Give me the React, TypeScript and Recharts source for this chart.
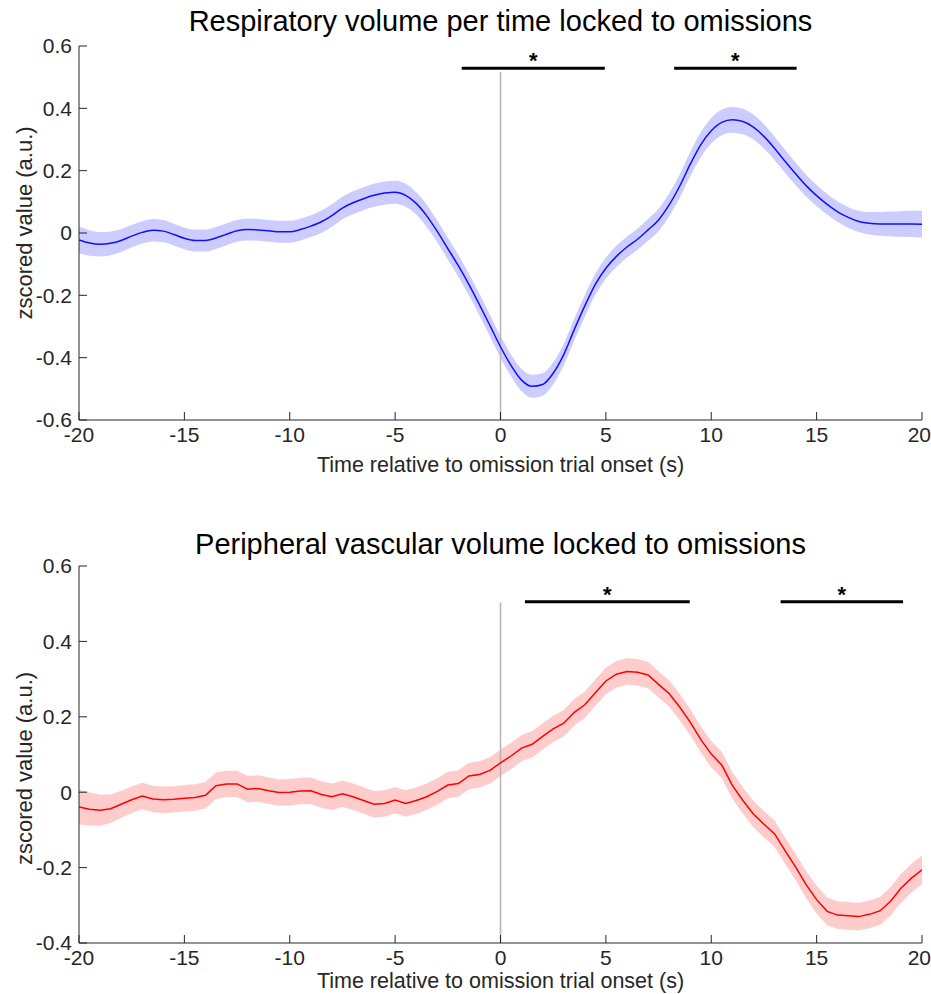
import React from 'react'
import { ComposedChart, Line, Area, XAxis, YAxis, ReferenceLine } from 'recharts'

// time grid (s), shared by both panels
const times = [
  -20, -19.5, -19, -18.5, -18, -17.5, -17, -16.5, -16, -15.5, -15, -14.5, -14, -13.5, -13, -12.5,
  -12, -11.5, -11, -10.5, -10, -9.5, -9, -8.5, -8, -7.5, -7, -6.5, -6, -5.5, -5, -4.5, -4, -3.5,
  -3, -2.5, -2, -1.5, -1, -0.5, 0, 0.5, 1, 1.5, 2, 2.5, 3, 3.5, 4, 4.5, 5, 5.5, 6, 6.5, 7, 7.5, 8,
  8.5, 9, 9.5, 10, 10.5, 11, 11.5, 12, 12.5, 13, 13.5, 14, 14.5, 15, 15.5, 16, 16.5, 17, 17.5, 18,
  18.5, 19, 19.5, 20,
]

// respiratory volume per time, mean and sem
const respMean = [
  -0.022, -0.032, -0.036, -0.033, -0.024, -0.01, 0.002, 0.009, 0.006, -0.005, -0.017, -0.024,
  -0.024, -0.016, -0.004, 0.007, 0.011, 0.01, 0.007, 0.004, 0.004, 0.011, 0.022, 0.036, 0.056, 0.08,
  0.097, 0.11, 0.121, 0.128, 0.131, 0.121, 0.095, 0.055, 0.005, -0.05, -0.105, -0.165, -0.23,
  -0.297, -0.365, -0.425, -0.472, -0.492, -0.486, -0.45, -0.39, -0.31, -0.234, -0.165, -0.113,
  -0.075, -0.045, -0.02, 0.01, 0.042, 0.09, 0.15, 0.22, 0.283, 0.328, 0.355, 0.363, 0.358, 0.34,
  0.31, 0.272, 0.23, 0.19, 0.152, 0.12, 0.092, 0.068, 0.05, 0.037, 0.031, 0.029, 0.029, 0.029,
  0.029, 0.028,
]
const respSem = [
  0.043, 0.041, 0.039, 0.038, 0.037, 0.036, 0.036, 0.036, 0.036, 0.035, 0.035, 0.035, 0.035, 0.035,
  0.035, 0.035, 0.035, 0.035, 0.035, 0.035, 0.035, 0.035, 0.035, 0.036, 0.036, 0.036, 0.037, 0.037,
  0.037, 0.037, 0.037, 0.037, 0.036, 0.036, 0.035, 0.035, 0.035, 0.035, 0.035, 0.035, 0.035, 0.035,
  0.036, 0.037, 0.036, 0.035, 0.035, 0.035, 0.035, 0.034, 0.034, 0.034, 0.034, 0.034, 0.035, 0.036,
  0.037, 0.038, 0.039, 0.04, 0.041, 0.041, 0.041, 0.041, 0.04, 0.039, 0.038, 0.037, 0.036, 0.035,
  0.034, 0.033, 0.033, 0.033, 0.034, 0.036, 0.038, 0.04, 0.041, 0.042, 0.043,
]

// peripheral vascular volume, mean and sem
const vascMean = [
  -0.039, -0.045, -0.048, -0.044, -0.032, -0.02, -0.01, -0.018, -0.02, -0.019, -0.016, -0.014,
  -0.008, 0.017, 0.022, 0.022, 0.008, 0.01, 0.004, -0.001, 0.0, 0.003, 0.004, -0.006, -0.012,
  -0.004, -0.012, -0.022, -0.032, -0.03, -0.021, -0.03, -0.022, -0.012, 0.002, 0.019, 0.023, 0.043,
  0.047, 0.058, 0.078, 0.096, 0.117, 0.127, 0.148, 0.168, 0.183, 0.212, 0.232, 0.264, 0.295, 0.313,
  0.32, 0.318, 0.311, 0.286, 0.262, 0.226, 0.186, 0.14, 0.101, 0.072, 0.018, -0.022, -0.058, -0.085,
  -0.11, -0.155, -0.198, -0.245, -0.285, -0.316, -0.326, -0.328, -0.33, -0.324, -0.315, -0.29,
  -0.255, -0.228, -0.206,
]
const vascSem = [
  0.046, 0.044, 0.041, 0.038, 0.036, 0.035, 0.035, 0.035, 0.035, 0.035, 0.035, 0.035, 0.035, 0.035,
  0.035, 0.035, 0.035, 0.035, 0.035, 0.035, 0.035, 0.035, 0.035, 0.035, 0.035, 0.035, 0.035, 0.035,
  0.035, 0.035, 0.035, 0.035, 0.035, 0.035, 0.035, 0.035, 0.035, 0.035, 0.035, 0.035, 0.035, 0.035,
  0.035, 0.035, 0.035, 0.035, 0.035, 0.035, 0.035, 0.035, 0.035, 0.035, 0.035, 0.035, 0.035, 0.035,
  0.035, 0.035, 0.035, 0.035, 0.035, 0.035, 0.035, 0.035, 0.035, 0.035, 0.035, 0.035, 0.035, 0.036,
  0.037, 0.037, 0.037, 0.037, 0.037, 0.037, 0.037, 0.038, 0.038, 0.038, 0.038,
]

const xTicks = [-20, -15, -10, -5, 0, 5, 10, 15, 20]
const respYTicks = [-0.6, -0.4, -0.2, 0, 0.2, 0.4, 0.6]
const vascYTicks = [-0.4, -0.2, 0, 0.2, 0.4, 0.6]

// significant windows (s)
const respSig = [
  [-1.84, 4.95],
  [8.24, 14.05],
]
const vascSig = [
  [1.16, 8.98],
  [13.29, 19.1],
]

const AXIS = '#262626'
const FONT = '"Liberation Sans", Arial, Helvetica, sans-serif'
const TICK_SIZE = 21

// x tick label; the last one is right aligned so it stays inside the window
function XTick(props: any) {
  const { x, y, payload } = props
  const last = payload.value === xTicks[xTicks.length - 1]
  return (
    <text
      x={last ? x + 9 : x}
      y={y}
      dy="0.71em"
      textAnchor={last ? 'end' : 'middle'}
      fill={AXIS}
      fontSize={TICK_SIZE}
    >
      {payload.value}
    </text>
  )
}

interface PanelProps {
  title: string
  top: number
  height: number
  marginTop: number
  xAxisHeight: number
  xLabelOffset: number
  yLabelShift: number
  mean: number[]
  sem: number[]
  lineColor: string
  bandColor: string
  lineType: 'monotone' | 'linear'
  yDomain: [number, number]
  yTicks: number[]
  sig: number[][]
  sigY: number
  onsetTop: number
  titleTop: number
}

function Panel({
  title,
  top,
  height,
  marginTop,
  xAxisHeight,
  xLabelOffset,
  yLabelShift,
  mean,
  sem,
  lineColor,
  bandColor,
  lineType,
  yDomain,
  yTicks,
  sig,
  sigY,
  onsetTop,
  titleTop,
}: PanelProps) {
  const data = times.map((t, i) => ({
    t,
    mean: mean[i],
    band: [mean[i] - sem[i], mean[i] + sem[i]],
  }))

  return (
    <div style={{ position: 'absolute', left: 0, top, width: 931, height }}>
      <div
        style={{
          position: 'absolute',
          left: 79,
          width: 843,
          top: titleTop,
          textAlign: 'center',
          fontSize: 29,
          lineHeight: '32px',
          color: '#000',
          whiteSpace: 'nowrap',
        }}
      >
        {title}
      </div>
      <ComposedChart
        width={931}
        height={height}
        data={data}
        margin={{ top: marginTop, right: 9, bottom: 0, left: 0 }}
      >
        <XAxis
          dataKey="t"
          type="number"
          domain={[-20, 20]}
          ticks={xTicks}
          interval={0}
          allowDataOverflow
          height={xAxisHeight}
          tickSize={-8}
          tickMargin={15}
          tick={<XTick />}
          axisLine={{ stroke: AXIS }}
          tickLine={{ stroke: AXIS }}
          label={{
            value: 'Time relative to omission trial onset (s)',
            position: 'insideBottom',
            offset: xLabelOffset,
            style: { fill: AXIS, fontSize: 21.5 },
          }}
        />
        <YAxis
          type="number"
          domain={yDomain}
          ticks={yTicks}
          interval={0}
          allowDataOverflow
          width={79}
          tickSize={-8}
          tickMargin={15}
          tickFormatter={(v: number) => String(v)}
          tick={{ fill: AXIS, fontSize: TICK_SIZE }}
          axisLine={{ stroke: AXIS }}
          tickLine={{ stroke: AXIS }}
          label={{
            value: 'zscored value  (a.u.)',
            angle: -90,
            position: 'insideLeft',
            offset: 24,
            dy: yLabelShift,
            style: { fill: AXIS, fontSize: 22, textAnchor: 'middle' },
          }}
        />
        <ReferenceLine
          segment={[
            { x: 0, y: yDomain[0] },
            { x: 0, y: onsetTop },
          ]}
          stroke="#b5b5b5"
          strokeWidth={1.5}
          ifOverflow="visible"
        />
        <Area
          dataKey="band"
          type={lineType}
          stroke="none"
          fill={bandColor}
          fillOpacity={1}
          dot={false}
          activeDot={false}
          isAnimationActive={false}
        />
        <Line
          dataKey="mean"
          type={lineType}
          stroke={lineColor}
          strokeWidth={1.5}
          dot={false}
          activeDot={false}
          isAnimationActive={false}
        />
        {sig.map(([a, b], i) => (
          <ReferenceLine
            key={i}
            segment={[
              { x: a, y: sigY },
              { x: b, y: sigY },
            ]}
            stroke="#000"
            strokeWidth={3}
            ifOverflow="visible"
            label={{
              value: '*',
              position: 'top',
              offset: 0,
              style: { fill: '#000', fontSize: 22, fontWeight: 'bold' },
            }}
          />
        ))}
      </ComposedChart>
    </div>
  )
}

export default function App() {
  return (
    <div
      style={{
        position: 'absolute',
        left: 0,
        top: 0,
        width: 931,
        height: 994,
        background: '#fff',
        fontFamily: FONT,
        overflow: 'hidden',
      }}
    >
      <Panel
        title="Respiratory volume per time locked to omissions"
        top={0}
        height={490}
        marginTop={46}
        xAxisHeight={70}
        xLabelOffset={18}
        yLabelShift={-10}
        mean={respMean}
        sem={respSem}
        lineColor="#1010ff"
        bandColor="#ccccff"
        lineType="monotone"
        yDomain={[-0.6, 0.6]}
        yTicks={respYTicks}
        sig={respSig}
        sigY={0.529}
        onsetTop={0.517}
        titleTop={5}
      />
      <Panel
        title="Peripheral vascular volume locked to omissions"
        top={500}
        height={494}
        marginTop={66}
        xAxisHeight={51}
        xLabelOffset={6}
        yLabelShift={14}
        mean={vascMean}
        sem={vascSem}
        lineColor="#ff0000"
        bandColor="#ffcccc"
        lineType="linear"
        yDomain={[-0.4, 0.6]}
        yTicks={vascYTicks}
        sig={vascSig}
        sigY={0.505}
        onsetTop={0.503}
        titleTop={28}
      />
    </div>
  )
}
